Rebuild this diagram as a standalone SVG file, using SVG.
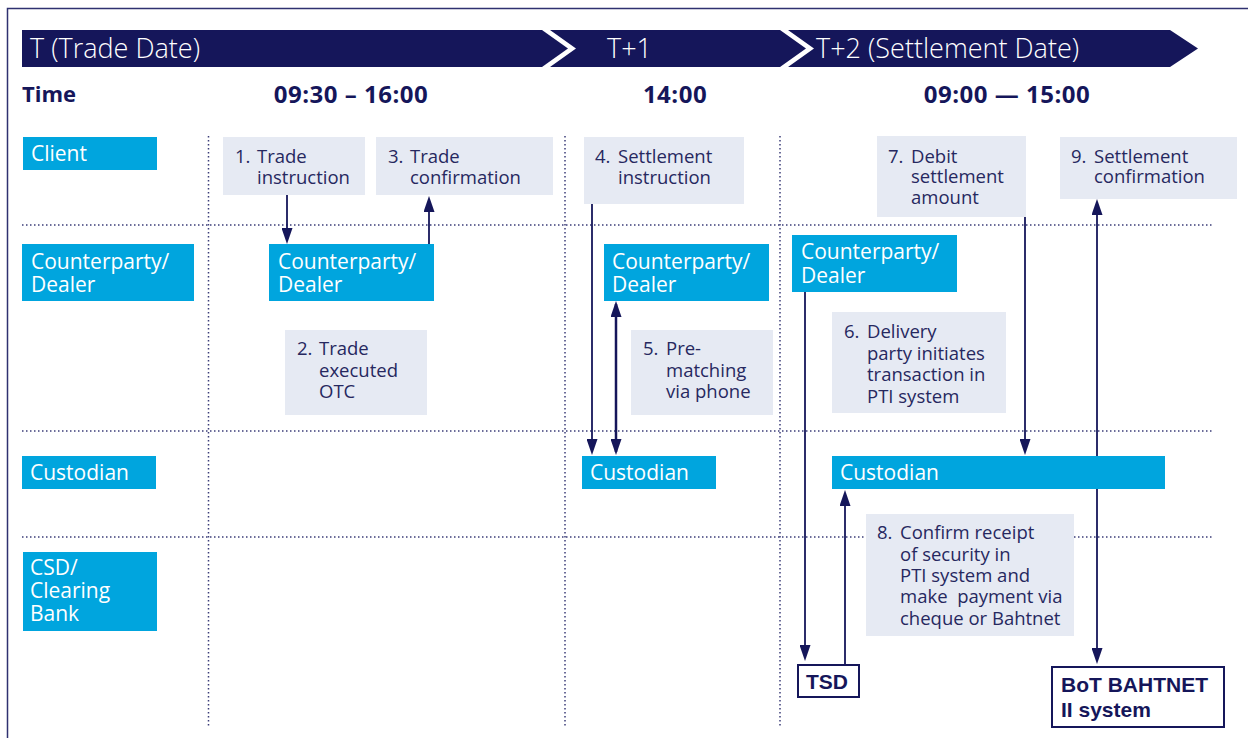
<svg xmlns="http://www.w3.org/2000/svg" width="1248" height="738" viewBox="0 0 1248 738">
<defs>
<style>
.band{fill:#15165a}
.bt{font-family:"Open Sans","Liberation Sans",sans-serif;font-size:27px;font-weight:300;fill:#fff}
.hd{font-family:"Open Sans","Liberation Sans",sans-serif;font-size:22px;font-weight:700;fill:#15165a}
.tm{font-size:24px;letter-spacing:0.5px}
.blue{fill:#00a5de}
.lt{font-family:"Open Sans","Liberation Sans",sans-serif;font-size:21px;fill:#fff}
.grey{fill:#e6eaf3}
.gt{font-family:"Open Sans","Liberation Sans",sans-serif;font-size:18.5px;fill:#26285f}
.dot{stroke:#3b3d78;stroke-width:1.5;stroke-dasharray:1.5 2.5;fill:none}
.arr{stroke:#15165a;stroke-width:1.8;fill:none;marker-end:url(#ah)}
.wb{fill:#fff;stroke:#15165a;stroke-width:2}
.bk{font-family:"Liberation Sans",sans-serif;font-size:21px;font-weight:700;fill:#15165a}
</style>
<marker id="ah" viewBox="0 0 16 11" refX="13" refY="5.5" markerWidth="16" markerHeight="11" markerUnits="userSpaceOnUse" orient="auto-start-reverse"><path d="M0,0 L16,5.5 L0,11 z" fill="#15165a"/></marker>
</defs>
<rect x="7.5" y="8.5" width="1270" height="760" fill="#fff" stroke="#2f3170" stroke-width="1.5"/>

<g id="timeline">
<polygon class="band" points="22,30 542,30 568,48.5 542,67 22,67"/>
<polygon class="band" points="550,30 780,30 806,48.5 780,67 550,67 576,48.5"/>
<polygon class="band" points="788,30 1170,30 1198,48.5 1170,67 788,67 814,48.5"/>
<text class="bt" x="30" y="58">T (Trade Date)</text>
<text class="bt" x="607" y="58">T+1</text>
<text class="bt" x="816" y="58">T+2 (Settlement Date)</text>
</g>

<g id="headers">
<text class="hd" x="22" y="102">Time</text>
<text class="hd tm" x="351" y="103" text-anchor="middle">09:30 – 16:00</text>
<text class="hd tm" x="675" y="103" text-anchor="middle">14:00</text>
<text class="hd tm" x="1007" y="103" text-anchor="middle">09:00 — 15:00</text>
</g>

<g id="grid">
<line class="dot" x1="22" y1="225" x2="1214" y2="225"/>
<line class="dot" x1="22" y1="431" x2="1214" y2="431"/>
<line class="dot" x1="22" y1="537" x2="1214" y2="537"/>
<line class="dot" x1="208.5" y1="136" x2="208.5" y2="727"/>
<line class="dot" x1="565" y1="136" x2="565" y2="727"/>
<line class="dot" x1="780" y1="136" x2="780" y2="727"/>
</g>

<g id="connectors">
<path class="arr" d="M287,195 V241"/>
<path class="arr" d="M429,244 V199"/>
<path class="arr" d="M592,204 V452"/>
<path class="arr" d="M616,304 V452" style="stroke-width:2.5;marker-start:url(#ah)"/>
<path class="arr" d="M805,292 V658"/>
<path class="arr" d="M845,664 V493"/>
<path class="arr" d="M1025,217 V452"/>
<path class="arr" d="M1097,456 V202"/>
<path class="arr" d="M1097,489 V661"/>
</g>

<g id="lane-client"><rect class="blue" x="23" y="137" width="134" height="33"/><text class="lt" x="31" y="161">Client</text></g>
<g id="lane-dealer"><rect class="blue" x="22" y="244" width="172" height="57"/><text class="lt" x="31" y="269">Counterparty/<tspan x="31" y="292">Dealer</tspan></text></g>
<g id="lane-custodian"><rect class="blue" x="22" y="456" width="134" height="33"/><text class="lt" x="30" y="480">Custodian</text></g>
<g id="lane-csd"><rect class="blue" x="23" y="552" width="134" height="79"/><text class="lt" x="30" y="575">CSD/<tspan x="30" y="598">Clearing</tspan><tspan x="30" y="621">Bank</tspan></text></g>

<g id="step1"><rect class="grey" x="223" y="137" width="142" height="58"/><text class="gt" x="235" y="163">1.</text><text class="gt" x="257" y="163">Trade<tspan x="257" y="184">instruction</tspan></text></g>
<g id="step3"><rect class="grey" x="376" y="137" width="177" height="58"/><text class="gt" x="388" y="163">3.</text><text class="gt" x="410" y="163">Trade<tspan x="410" y="184">confirmation</tspan></text></g>
<g id="dealer-t"><rect class="blue" x="269" y="244" width="165" height="57"/><text class="lt" x="278" y="269">Counterparty/<tspan x="278" y="292">Dealer</tspan></text></g>
<g id="step2"><rect class="grey" x="285" y="330" width="142" height="85"/><text class="gt" x="297" y="355">2.</text><text class="gt" x="319" y="355">Trade<tspan x="319" y="377">executed</tspan><tspan x="319" y="398">OTC</tspan></text></g>

<g id="step4"><rect class="grey" x="584" y="137" width="160" height="67"/><text class="gt" x="595" y="163">4.</text><text class="gt" x="618" y="163">Settlement<tspan x="618" y="184">instruction</tspan></text></g>
<g id="dealer-t1"><rect class="blue" x="604" y="244" width="165" height="57"/><text class="lt" x="612" y="269">Counterparty/<tspan x="612" y="292">Dealer</tspan></text></g>
<g id="step5"><rect class="grey" x="631" y="330" width="142" height="85"/><text class="gt" x="643" y="355">5.</text><text class="gt" x="666" y="355">Pre-<tspan x="666" y="377">matching</tspan><tspan x="666" y="398">via phone</tspan></text></g>
<g id="custodian-t1"><rect class="blue" x="582" y="456" width="134" height="33"/><text class="lt" x="590" y="480">Custodian</text></g>

<g id="step7"><rect class="grey" x="877" y="136" width="149" height="81"/><text class="gt" x="888" y="163">7.</text><text class="gt" x="911" y="163">Debit<tspan x="911" y="183">settlement</tspan><tspan x="911" y="204">amount</tspan></text></g>
<g id="step9"><rect class="grey" x="1060" y="137" width="177" height="62"/><text class="gt" x="1071" y="163">9.</text><text class="gt" x="1094" y="163">Settlement<tspan x="1094" y="183">confirmation</tspan></text></g>
<g id="dealer-t2"><rect class="blue" x="792" y="235" width="165" height="57"/><text class="lt" x="801" y="259">Counterparty/<tspan x="801" y="283">Dealer</tspan></text></g>
<g id="step6"><rect class="grey" x="832" y="312" width="174" height="101"/><text class="gt" x="844" y="338">6.</text><text class="gt" x="867" y="338">Delivery<tspan x="867" y="360">party initiates</tspan><tspan x="867" y="381">transaction in</tspan><tspan x="867" y="403">PTI system</tspan></text></g>
<g id="custodian-t2"><rect class="blue" x="832" y="456" width="333" height="33"/><text class="lt" x="840" y="480">Custodian</text></g>
<g id="step8"><rect class="grey" x="866" y="514" width="208" height="122"/><text class="gt" x="877" y="539">8.</text><text class="gt" x="900" y="539" xml:space="preserve">Confirm receipt<tspan x="900" y="561">of security in</tspan><tspan x="900" y="582">PTI system and</tspan><tspan x="900" y="603">make  payment via</tspan><tspan x="900" y="625">cheque or Bahtnet</tspan></text></g>
<g id="tsd"><rect class="wb" x="798" y="665" width="61" height="32"/><text class="bk" x="806" y="689">TSD</text></g>
<g id="bahtnet"><rect class="wb" x="1052" y="667" width="172" height="60"/><text class="bk" x="1061" y="692">BoT BAHTNET<tspan x="1061" y="717">II system</tspan></text></g>
</svg>
